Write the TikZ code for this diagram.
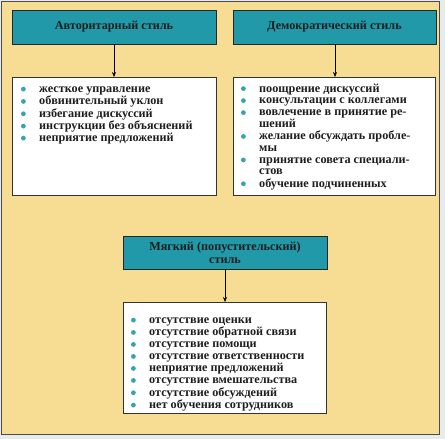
\documentclass[tikz,border=0pt]{standalone}
\usepackage{fontspec}
\setmainfont{Liberation Serif}
\usetikzlibrary{arrows.meta}
\definecolor{bgc}{HTML}{E6ECEE}
\definecolor{frameY}{HTML}{F7DC93}
\definecolor{tealbox}{HTML}{2299A9}
\definecolor{bul}{HTML}{3AA3B0}
\definecolor{txt}{HTML}{1E1E1E}
\newcommand{\bu}{\makebox[18.5pt][l]{\hspace{0.3pt}\tikz[baseline=-3.4pt,x=1pt,y=1pt]\fill[bul] (0,0) circle[radius=2.4pt];}}
\tikzset{
  headbox/.style={draw=black!85, fill=tealbox, line width=0.8pt},
  listbox/.style={draw=black!80, fill=white, line width=0.6pt},
  listtext/.style={inner sep=0pt, anchor=base west, text=txt, font=\bfseries\fontsize{12.2}{12}\selectfont},
  headtext/.style={inner sep=0pt, text=txt, align=center, font=\bfseries\fontsize{12.2}{13}\selectfont},
  conn/.style={draw=black, line width=0.6pt, -{Stealth[length=5pt,width=4pt]}}
}
\begin{document}
\begin{tikzpicture}[x=1pt,y=-1pt]
\useasboundingbox (0,0) rectangle (445,439);
\fill[bgc] (0,0) rectangle (445,439);
\draw[fill=frameY, draw=black!70, line width=1pt] (1.5,1.5) rectangle (439,434);
% left
\draw[headbox] (12,10) rectangle (216,44);
\node[headtext] (ha) at (114,27) {Авторитарный стиль};
\draw[listbox] (12,77) rectangle (216,195);
\coordinate (ta) at (114,44);
\coordinate (la) at (114,77);
\draw[conn] (ta) -- (la);
\node[listtext] (lista) at (20.5,92.5) {\begin{tabular}[t]{@{}l@{}l@{}}
\bu & жесткое управление\\
\bu & обвинительный уклон\\
\bu & избегание дискуссий\\
\bu & инструкции без объяснений\\
\bu & неприятие предложений
\end{tabular}};
% right
\draw[headbox] (233,10) rectangle (436,44);
\node[headtext] (hb) at (334.5,27) {Демократический стиль};
\draw[listbox] (233,77) rectangle (435,195);
\coordinate (tb) at (335,44);
\coordinate (lb) at (335,77);
\draw[conn] (tb) -- (lb);
\node[listtext] (listb) at (240.5,92) {\begin{tabular}[t]{@{}l@{}l@{}}
\bu & поощрение дискуссий\\
\bu & консультации с коллегами\\
\bu & вовлечение в принятие ре-\\[-0.5pt]
 & шений\\
\bu & желание обсуждать пробле-\\[-0.5pt]
 & мы\\
\bu & принятие совета специали-\\[-0.5pt]
 & стов\\
\bu & обучение подчиненных
\end{tabular}};
% bottom
\draw[headbox] (123,236) rectangle (327,269);
\node[headtext] (hc) at (225,253) {Мягкий (попустительский)\\стиль};
\draw[listbox] (123,302) rectangle (326,413);
\coordinate (tc) at (225,269);
\coordinate (lc) at (225,302);
\draw[conn] (tc) -- (lc);
\node[listtext] (listc) at (130.5,323.5) {\begin{tabular}[t]{@{}l@{}l@{}}
\bu & отсутствие оценки\\
\bu & отсутствие обратной связи\\
\bu & отсутствие помощи\\
\bu & отсутствие ответственности\\
\bu & неприятие предложений\\
\bu & отсутствие вмешательства\\
\bu & отсутствие обсуждений\\
\bu & нет обучения сотрудников
\end{tabular}};
\end{tikzpicture}
\end{document}
